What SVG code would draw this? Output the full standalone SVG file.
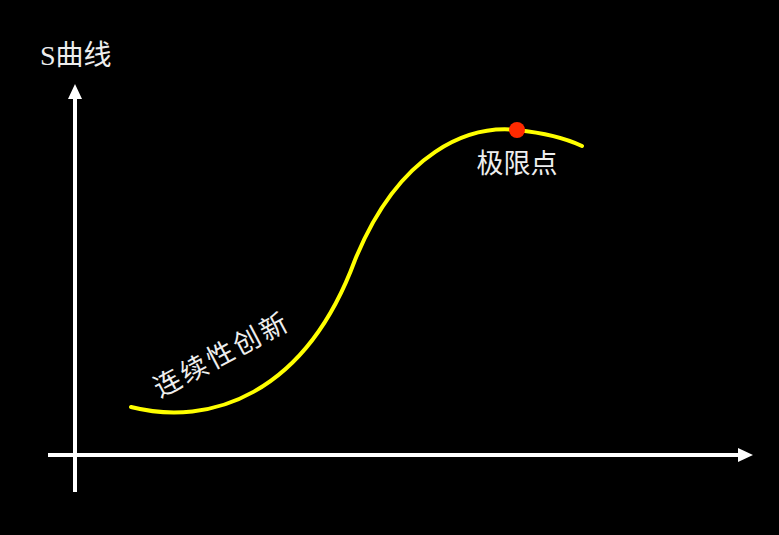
<svg xmlns="http://www.w3.org/2000/svg" width="779" height="535" viewBox="0 0 779 535">
<defs>
<style>
.axis{stroke:#fff;stroke-width:4;fill:none}
.lbl{fill:#eee;font-family:"Liberation Serif","Noto Sans CJK SC",serif;font-size:27px}
.curve{stroke:#ffff00;stroke-width:4;fill:none;stroke-linecap:round}
</style>
</defs>
<rect width="779" height="535" fill="#000"/>
<g id="connectors">
<line class="axis" x1="75" y1="492" x2="75" y2="98"/>
<polygon points="75,84 68,99 82,99" fill="#fff"/>
<line class="axis" x1="48" y1="455" x2="740" y2="455"/>
<polygon points="753,455 738,448 738,462" fill="#fff"/>
</g>
<g id="curve">
<path class="curve" d="M131,407 C210,427 305,395 355,260 C400,150 470,125 517,130 C545,133 565,138 582,146"/>
</g>
<g id="limit">
<circle cx="517" cy="130" r="8" fill="#ff2a00"/>
<text class="lbl" x="517" y="173" text-anchor="middle">极限点</text>
</g>
<g id="title">
<text class="lbl" x="40" y="65" style="font-size:28px">S曲线</text>
</g>
<g id="innovation">
<text class="lbl" transform="translate(160,398) rotate(-28)" letter-spacing="3">连续性创新</text>
</g>
</svg>
